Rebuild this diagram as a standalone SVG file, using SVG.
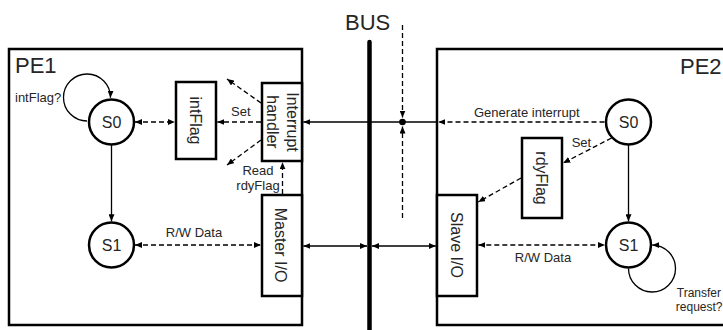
<svg xmlns="http://www.w3.org/2000/svg" width="723" height="330" viewBox="0 0 723 330">
<defs>
<marker id="ah" viewBox="0 0 7 6" refX="7" refY="3" markerWidth="7" markerHeight="6" markerUnits="userSpaceOnUse" orient="auto-start-reverse"><path d="M0,0 L7,3 L0,6 z" fill="#000"/></marker>
<style>
.pe{fill:#fff;stroke:#000;stroke-width:2.5}
.box{fill:#fff;stroke:#000;stroke-width:2.5}
.st{fill:#fff;stroke:#000;stroke-width:2.5}
.c{fill:none;stroke:#000;stroke-width:1.3}
.d{fill:none;stroke:#000;stroke-width:1.3;stroke-dasharray:5,3}
.e{marker-end:url(#ah)}
.b{marker-start:url(#ah);marker-end:url(#ah)}
text{font-family:"Liberation Sans",Arial,sans-serif;fill:#262626}
.big{font-size:22px}
.lbl{font-size:13px}
.sm{font-size:12px}
.nt{font-size:16px}
</style>
</defs>
<rect width="723" height="330" fill="#fff"/>
<g id="PE1"><rect class="pe" x="9" y="49" width="293" height="276"/><text class="big" x="15" y="73">PE1</text></g>
<g id="PE2"><rect class="pe" x="437" y="49" width="300" height="276"/><text class="big" x="680" y="74">PE2</text></g>
<g id="BUS"><line x1="369.5" y1="42" x2="369.5" y2="335" stroke="#000" stroke-width="4.5" stroke-linecap="round"/><text class="big" x="345" y="30">BUS</text></g>
<g id="pe1-s0"><circle class="st" cx="111.5" cy="122" r="22.5"/><text class="nt" x="111.5" y="127.7" text-anchor="middle">S0</text></g>
<g id="pe1-s1"><circle class="st" cx="111.5" cy="245" r="22.5"/><text class="nt" x="111.5" y="250.7" text-anchor="middle">S1</text></g>
<g id="intFlag"><rect class="box" x="176" y="82" width="40" height="77"/><text class="nt" transform="translate(196,120.5) rotate(90)" x="0" y="5.7" text-anchor="middle">intFlag</text></g>
<g id="handler"><rect class="box" x="262" y="83" width="40" height="78"/><text class="nt" transform="translate(282,122) rotate(90)" text-anchor="middle"><tspan x="0" y="-4.5">Interrupt</tspan><tspan x="0" y="15.5">handler</tspan></text></g>
<g id="master"><rect class="box" x="262" y="195" width="40" height="101"/><text class="nt" transform="translate(281,245) rotate(90)" x="0" y="5.7" text-anchor="middle">Master I/O</text></g>
<g id="slave"><rect class="box" x="437" y="195" width="40" height="101"/><text class="nt" transform="translate(456.5,245) rotate(90)" x="0" y="5.7" text-anchor="middle">Slave I/O</text></g>
<g id="rdyFlag"><rect class="box" x="522" y="138" width="40" height="80"/><text class="nt" transform="translate(541.5,178) rotate(90)" x="0" y="5.7" text-anchor="middle">rdyFlag</text></g>
<g id="pe2-s0"><circle class="st" cx="628.5" cy="122" r="22.5"/><text class="nt" x="628.5" y="127.7" text-anchor="middle">S0</text></g>
<g id="pe2-s1"><circle class="st" cx="628.5" cy="245" r="22.5"/><text class="nt" x="628.5" y="250.7" text-anchor="middle">S1</text></g>
<g id="connectors">
<path class="c e" d="M87,121 A23.5,23.5 0 1 1 110.5,97.8"/>
<line class="c e" x1="111.5" y1="145" x2="111.5" y2="221.3"/>
<line class="d b" x1="135" y1="122" x2="174.8" y2="122"/>
<line class="d e" x1="261" y1="122" x2="217.3" y2="122"/>
<line class="d e" x1="261" y1="103" x2="227" y2="79"/>
<line class="d e" x1="261" y1="140" x2="227" y2="165"/>
<line class="d e" x1="282.5" y1="194" x2="282.5" y2="162.3"/>
<line class="d b" x1="135" y1="245" x2="260.8" y2="245"/>
<line class="d e" x1="604.5" y1="122" x2="438.3" y2="122"/>
<line class="c e" x1="437" y1="122" x2="303.3" y2="122"/>
<line class="d e" x1="402.5" y1="25" x2="402.5" y2="117.5"/>
<line class="d e" x1="402.5" y1="218" x2="402.5" y2="126.5"/>
<circle cx="402.5" cy="122" r="3.3" fill="#000"/>
<line class="c b" x1="303.3" y1="246" x2="367" y2="246"/>
<line class="c b" x1="372" y1="246" x2="435.8" y2="246"/>
<line class="c e" x1="628.5" y1="145" x2="628.5" y2="221.3"/>
<line class="d e" x1="611.5" y1="138" x2="563.3" y2="163"/>
<line class="d e" x1="521" y1="178" x2="478.3" y2="202"/>
<line class="d b" x1="478.3" y1="245" x2="604.8" y2="245"/>
<path class="c e" d="M628.5,268.5 A23.5,23.5 0 1 0 652.3,245"/>
</g>
<g id="labels">
<text class="lbl" x="15" y="101.7">intFlag?</text>
<text class="lbl" x="231" y="116">Set</text>
<text class="lbl" x="258" y="175" text-anchor="middle">Read</text>
<text class="lbl" x="258" y="189.5" text-anchor="middle">rdyFlag</text>
<text class="lbl" x="194" y="236.7" text-anchor="middle">R/W Data</text>
<text class="lbl" x="474" y="116.7">Generate interrupt</text>
<text class="lbl" x="571.7" y="146.7">Set</text>
<text class="lbl" x="543" y="261.7" text-anchor="middle">R/W Data</text>
<text class="sm" x="721" y="296.7" text-anchor="end">Transfer</text>
<text class="sm" x="722.5" y="310.5" text-anchor="end">request?</text>
</g>
</svg>
